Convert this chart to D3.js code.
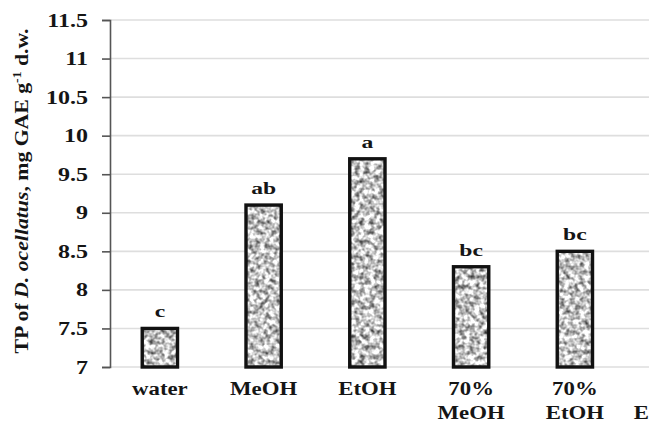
<!DOCTYPE html>
<html>
<head>
<meta charset="utf-8">
<script src="https://cdn.jsdelivr.net/npm/d3@7"></script>
<style>
  html, body { margin: 0; padding: 0; background: #fff; overflow: hidden; }
  text { font-family: "Liberation Serif", "Times New Roman", serif; font-weight: bold; fill: #151515; }
</style>
</head>
<body>
<svg id="chart" width="649" height="425"></svg>
<script>
const categories = ["water", "MeOH", "EtOH", "70% MeOH", "70% EtOH", "EtOAc"];
const categoryLines = [["water"], ["MeOH"], ["EtOH"], ["70%", "MeOH"], ["70%", "EtOH"], ["", "EtOAc"]];
const values = [7.5, 9.1, 9.7, 8.3, 8.5, 8.4];
const letters = ["c", "ab", "a", "bc", "bc", ""];
const yTicks = [7, 7.5, 8, 8.5, 9, 9.5, 10, 10.5, 11, 11.5];
const yTickLabels = ["7", "7.5", "8", "8.5", "9", "9.5", "10", "10.5", "11", "11.5"];

const svg = d3.select("#chart");
const axisX = 110;

const x = d3.scaleBand().domain(categories).range([108, 730.5]).paddingInner(0.66).paddingOuter(0.33);
const y = d3.scaleLinear().domain([7, 11.5]).range([367, 20]);

// texture filter
const defs = svg.append("defs");
const f = defs.append("filter").attr("id", "speckle")
  .attr("x", 0).attr("y", 0).attr("width", 1).attr("height", 1)
  .attr("color-interpolation-filters", "sRGB");
f.append("feTurbulence").attr("type", "fractalNoise").attr("baseFrequency", 0.2)
  .attr("numOctaves", 2).attr("seed", 7).attr("result", "noise");
f.append("feColorMatrix").attr("in", "noise").attr("type", "matrix")
  .attr("values", "1.5 0 0 0 0.02  1.5 0 0 0 0.02  1.5 0 0 0 0.02  0 0 0 0 1")
  .attr("result", "gray");
f.append("feGaussianBlur").attr("in", "gray").attr("stdDeviation", 0.5).attr("result", "soft");
f.append("feComposite").attr("in", "soft").attr("in2", "SourceGraphic").attr("operator", "in");

// gridlines
svg.append("g").selectAll("line").data(yTicks).join("line")
  .attr("x1", axisX).attr("x2", 649)
  .attr("y1", d => y(d)).attr("y2", d => y(d))
  .attr("stroke", "#dedede").attr("stroke-width", 1.6);

// y axis
const yAxis = d3.axisLeft(y).tickValues(yTicks).tickSize(8).tickSizeOuter(8)
  .tickFormat((d, i) => yTickLabels[i]);
const ga = svg.append("g").attr("transform", `translate(${axisX},0)`).call(yAxis);
ga.select(".domain").attr("stroke", "#555").attr("stroke-width", 1.6);
ga.selectAll(".tick line").attr("stroke", "#555").attr("stroke-width", 1.6);
ga.selectAll(".tick text").remove();
svg.append("g").selectAll("text").data(yTicks).join("text")
  .attr("transform", d => `translate(${88},${y(d) + 6.5}) scale(1.3,1)`)
  .attr("text-anchor", "end").attr("font-size", 18.5)
  .text((d, i) => yTickLabels[i]);

// bars
const bars = svg.append("g");
bars.selectAll("rect.fill").data(categories).join("rect").attr("class", "fill")
  .attr("x", d => x(d)).attr("width", x.bandwidth())
  .attr("y", (d, i) => y(values[i])).attr("height", (d, i) => y(7) - y(values[i]))
  .attr("fill", "#aaa").attr("filter", "url(#speckle)");
bars.selectAll("rect.edge").data(categories).join("rect").attr("class", "edge")
  .attr("x", d => x(d)).attr("width", x.bandwidth())
  .attr("y", (d, i) => y(values[i])).attr("height", (d, i) => y(7) - y(values[i]))
  .attr("fill", "none").attr("stroke", "#111").attr("stroke-width", 3.4);

// significance letters
svg.append("g").selectAll("text").data(categories).join("text")
  .attr("transform", (d, i) => `translate(${x(d) + x.bandwidth() / 2},${y(values[i]) - 11}) scale(1.35,1)`)
  .attr("text-anchor", "middle").attr("font-size", 17.5)
  .text((d, i) => letters[i]);

// category labels
const cg = svg.append("g");
categories.forEach((c, i) => {
  categoryLines[i].forEach((line, j) => {
    if (!line) return;
    const tx = cg.append("text")
      .attr("transform", `translate(${x(c) + x.bandwidth() / 2},${395 + j * 24}) scale(1.2,1)`)
      .attr("text-anchor", "middle").attr("font-size", 19)
      .text(line);
    if (i === categories.length - 1) tx.attr("textLength", 75).attr("lengthAdjust", "spacing");
  });
});

// y title
const t = svg.append("text")
  .attr("transform", "translate(28,191) rotate(-90)")
  .attr("text-anchor", "middle").attr("font-size", 19)
  .attr("textLength", 325).attr("lengthAdjust", "spacingAndGlyphs");
t.append("tspan").text("TP of ");
t.append("tspan").attr("font-style", "italic").text("D. ocellatus");
t.append("tspan").text(", mg GAE g");
t.append("tspan").attr("baseline-shift", "super").attr("font-size", 12).text("-1");
t.append("tspan").text(" d.w.");
</script>
</body>
</html>
